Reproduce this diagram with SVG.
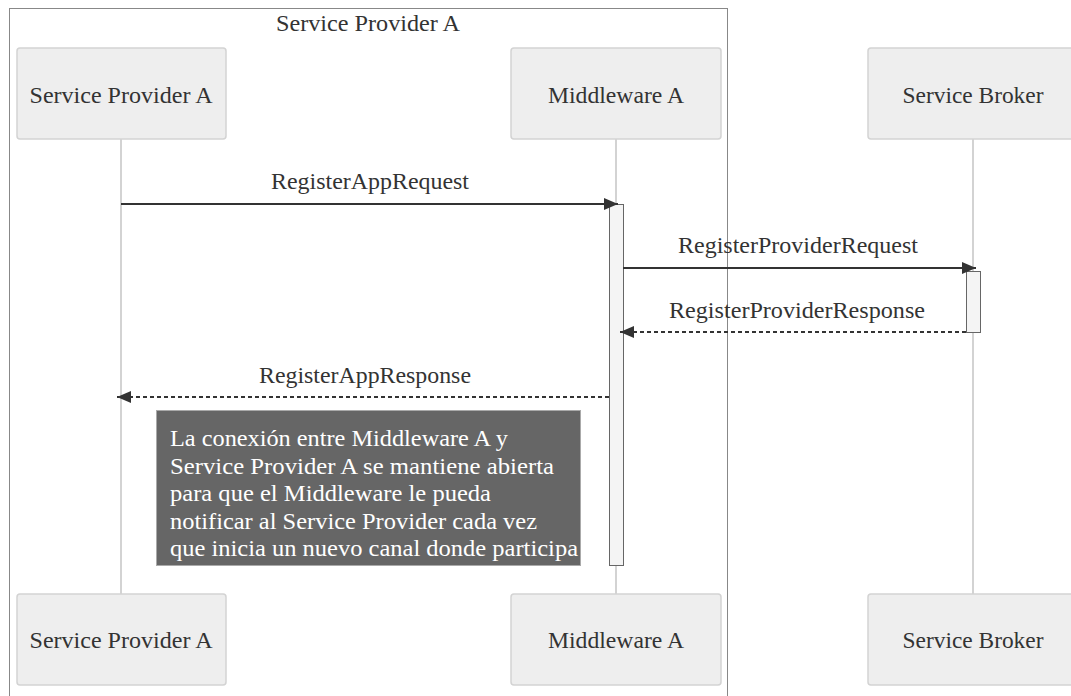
<svg xmlns="http://www.w3.org/2000/svg" width="1071" height="696" viewBox="0 0 1071 696">
  <style>
    text { font-family: "Liberation Serif", "DejaVu Serif", serif; fill: #333; font-size: 24px; }
    .actor rect { fill: #eeeeee; stroke: #d3d3d3; stroke-width: 1.5; }
    .actor text, .title, .label { text-anchor: middle; }
    .life { stroke: #d3d3d3; stroke-width: 2; }
    .act { fill: #f4f4f4; stroke: #666; stroke-width: 1; }
    .msg { stroke: #333; stroke-width: 2; fill: none; }
    .dash { stroke-dasharray: 4 3; }
    .note rect { fill: #666666; stroke: #aaaaaa; stroke-width: 1; }
    .note text { fill: #ffffff; }
  </style>
  <defs>
    <marker id="arrowhead" viewBox="0 0 14 12" refX="14" refY="6" markerWidth="14" markerHeight="12" markerUnits="userSpaceOnUse" orient="auto">
      <path d="M0,0 L14,6 L0,12 z" fill="#333"/>
    </marker>
  </defs>
  <rect width="1071" height="696" fill="#ffffff"/>

  <!-- box grouping participants -->
  <g id="box-service-provider-a">
    <rect x="9.5" y="8.5" width="718" height="700" fill="none" stroke="#888" stroke-width="1"/>
    <text class="title" x="368" y="31" textLength="184" lengthAdjust="spacingAndGlyphs">Service Provider A</text>
  </g>

  <!-- lifelines -->
  <g id="lifelines">
    <line class="life" x1="121" y1="139" x2="121" y2="594"/>
    <line class="life" x1="616" y1="139" x2="616" y2="594"/>
    <line class="life" x1="973" y1="139" x2="973" y2="594"/>
  </g>

  <!-- participants, top -->
  <g id="actor-sp-top" class="actor">
    <rect x="17" y="48" width="209" height="91" rx="3"/>
    <text x="121" y="103" textLength="183" lengthAdjust="spacingAndGlyphs">Service Provider A</text>
  </g>
  <g id="actor-mw-top" class="actor">
    <rect x="511" y="48" width="210" height="91" rx="3"/>
    <text x="616" y="103" textLength="136" lengthAdjust="spacingAndGlyphs">Middleware A</text>
  </g>
  <g id="actor-sb-top" class="actor">
    <rect x="868" y="48" width="210" height="91" rx="3"/>
    <text x="973" y="103" textLength="141" lengthAdjust="spacingAndGlyphs">Service Broker</text>
  </g>

  <!-- participants, bottom -->
  <g id="actor-sp-bottom" class="actor">
    <rect x="17" y="594" width="209" height="91" rx="3"/>
    <text x="121" y="648" textLength="183" lengthAdjust="spacingAndGlyphs">Service Provider A</text>
  </g>
  <g id="actor-mw-bottom" class="actor">
    <rect x="511" y="594" width="210" height="91" rx="3"/>
    <text x="616" y="648" textLength="136" lengthAdjust="spacingAndGlyphs">Middleware A</text>
  </g>
  <g id="actor-sb-bottom" class="actor">
    <rect x="868" y="594" width="210" height="91" rx="3"/>
    <text x="973" y="648" textLength="141" lengthAdjust="spacingAndGlyphs">Service Broker</text>
  </g>

  <!-- activations -->
  <g id="activations">
    <rect class="act" x="609.5" y="204.5" width="14" height="361"/>
    <rect class="act" x="966.5" y="271.5" width="14" height="61"/>
  </g>

  <!-- messages -->
  <g id="connectors">
    <line class="msg" x1="121" y1="204" x2="618" y2="204" marker-end="url(#arrowhead)"/>
    <text class="label" x="370" y="189" textLength="198" lengthAdjust="spacingAndGlyphs">RegisterAppRequest</text>
    <line class="msg" x1="623" y1="268" x2="976" y2="268" marker-end="url(#arrowhead)"/>
    <text class="label" x="798" y="253" textLength="240" lengthAdjust="spacingAndGlyphs">RegisterProviderRequest</text>
    <line class="msg dash" x1="966" y1="332" x2="620" y2="332" marker-end="url(#arrowhead)"/>
    <text class="label" x="797" y="318" textLength="256" lengthAdjust="spacingAndGlyphs">RegisterProviderResponse</text>
    <line class="msg dash" x1="609" y1="397" x2="117" y2="397" marker-end="url(#arrowhead)"/>
    <text class="label" x="365" y="383" textLength="212" lengthAdjust="spacingAndGlyphs">RegisterAppResponse</text>
  </g>

  <!-- note -->
  <g id="note" class="note">
    <rect x="156.5" y="410.5" width="424" height="155"/>
    <text x="170" y="446" textLength="338" lengthAdjust="spacingAndGlyphs">La conexión entre Middleware A y</text>
    <text x="170" y="473.5" textLength="384" lengthAdjust="spacingAndGlyphs">Service Provider A se mantiene abierta</text>
    <text x="170" y="501" textLength="321" lengthAdjust="spacingAndGlyphs">para que el Middleware le pueda</text>
    <text x="170" y="528.5" textLength="367" lengthAdjust="spacingAndGlyphs">notificar al Service Provider cada vez</text>
    <text x="170" y="556" textLength="408" lengthAdjust="spacingAndGlyphs">que inicia un nuevo canal donde participa</text>
  </g>
</svg>
